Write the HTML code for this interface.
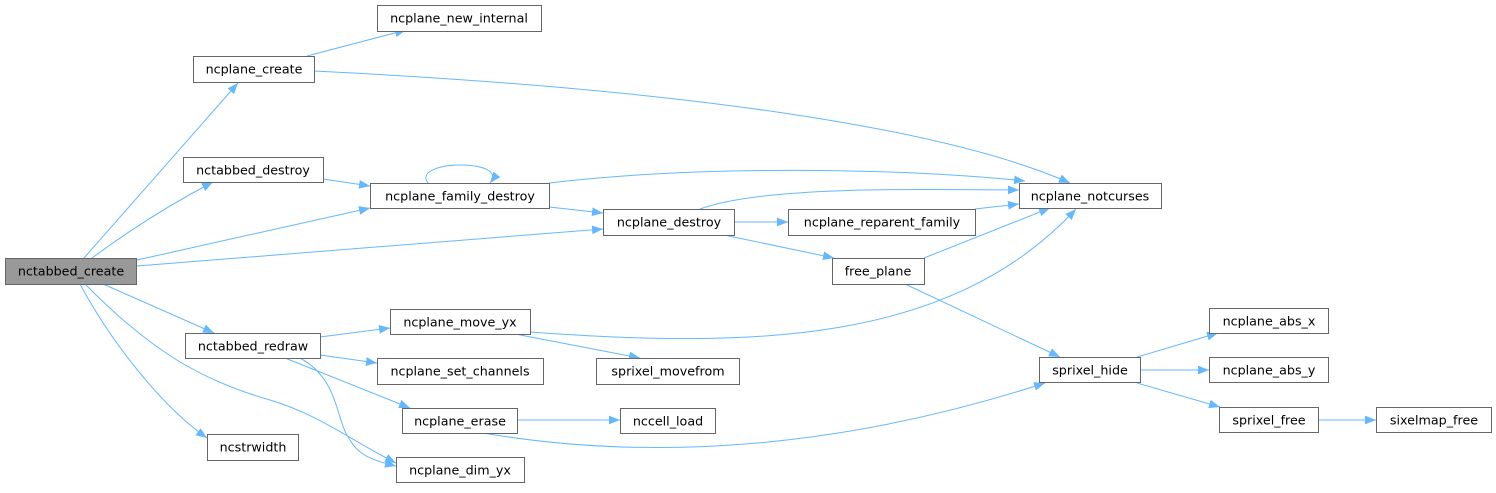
<!DOCTYPE html>
<html><head><meta charset="utf-8"><style>
html,body{margin:0;padding:0;background:#fff;}
svg text{font-family:"DejaVu Sans","Liberation Sans",sans-serif;font-size:12.7px;fill:#000;text-anchor:middle;dominant-baseline:central;}
.n{fill:#fff;stroke:#666;stroke-width:1;}
.e{fill:none;stroke:#63b8ff;stroke-width:1;}
</style></head><body>
<svg width="1496" height="488" viewBox="0 0 1496 488" xmlns="http://www.w3.org/2000/svg">
<defs><marker id="a" viewBox="0 0 10 8" refX="10" refY="4" markerWidth="11" markerHeight="9" markerUnits="userSpaceOnUse" orient="auto"><path d="M0,0L10,4L0,8z" fill="#63b8ff"/></marker></defs>
<g class="e">
<path d="M84,258L238,83" marker-end="url(#a)"/>
<path d="M92,258Q150,215 213,182" marker-end="url(#a)"/>
<path d="M137,260L370,208" marker-end="url(#a)"/>
<path d="M137,266L603,229" marker-end="url(#a)"/>
<path d="M103,284L214,333" marker-end="url(#a)"/>
<path d="M80,284C110,340 160,405 207,438" marker-end="url(#a)"/>
<path d="M85,284C150,350 200,380 270,400C320,415 350,440 396,463" marker-end="url(#a)"/>
<path d="M307,56L406,30" marker-end="url(#a)"/>
<path d="M314,71C700,90 950,130 1070,183" marker-end="url(#a)"/>
<path d="M323,179L370,186" marker-end="url(#a)"/>
<path d="M428,183C410,160 510,158 490,183" marker-end="url(#a)"/>
<path d="M549,183C700,165 900,168 1025,181" marker-end="url(#a)"/>
<path d="M549,207L603,213" marker-end="url(#a)"/>
<path d="M700,209C760,187 900,189 1019,190" marker-end="url(#a)"/>
<path d="M734,222L788,222" marker-end="url(#a)"/>
<path d="M724,235L834,258" marker-end="url(#a)"/>
<path d="M975,209L1019,204" marker-end="url(#a)"/>
<path d="M924,258L1050,208" marker-end="url(#a)"/>
<path d="M905,284L1060,357" marker-end="url(#a)"/>
<path d="M530,332C750,348 950,345 1076,209" marker-end="url(#a)"/>
<path d="M515,334L640,358" marker-end="url(#a)"/>
<path d="M320,337L390,328" marker-end="url(#a)"/>
<path d="M320,355L377,363" marker-end="url(#a)"/>
<path d="M285,358L410,408" marker-end="url(#a)"/>
<path d="M300,358C340,380 335,420 350,440C360,458 380,462 396,466" marker-end="url(#a)"/>
<path d="M517,420L620,420" marker-end="url(#a)"/>
<path d="M483,433C700,470 900,430 1045,383" marker-end="url(#a)"/>
<path d="M1137,357L1218,333" marker-end="url(#a)"/>
<path d="M1140,370L1209,370" marker-end="url(#a)"/>
<path d="M1137,383L1220,407" marker-end="url(#a)"/>
<path d="M1318,420L1376,420" marker-end="url(#a)"/>
</g>
<rect x="5.5" y="258.5" width="131" height="26" fill="#999" stroke="#666"/><text x="71" y="271">nctabbed_create</text>
<rect class="n" x="377.5" y="5.5" width="164" height="26"/><text x="459" y="18">ncplane_new_internal</text>
<rect class="n" x="193.5" y="56.5" width="121" height="26"/><text x="254" y="69">ncplane_create</text>
<rect class="n" x="183.5" y="157.5" width="140" height="25"/><text x="253" y="170">nctabbed_destroy</text>
<rect class="n" x="370.5" y="183.5" width="179" height="25"/><text x="460" y="196">ncplane_family_destroy</text>
<rect class="n" x="603.5" y="209.5" width="131" height="26"/><text x="669" y="222">ncplane_destroy</text>
<rect class="n" x="788.5" y="209.5" width="187" height="26"/><text x="882" y="222">ncplane_reparent_family</text>
<rect class="n" x="1019.5" y="183.5" width="142" height="25"/><text x="1090" y="196">ncplane_notcurses</text>
<rect class="n" x="832.5" y="258.5" width="92" height="26"/><text x="878" y="271">free_plane</text>
<rect class="n" x="390.5" y="309.5" width="140" height="25"/><text x="460" y="322">ncplane_move_yx</text>
<rect class="n" x="185.5" y="333.5" width="135" height="25"/><text x="253" y="346">nctabbed_redraw</text>
<rect class="n" x="377.5" y="358.5" width="166" height="26"/><text x="460" y="371">ncplane_set_channels</text>
<rect class="n" x="596.5" y="358.5" width="143" height="26"/><text x="668" y="371">sprixel_movefrom</text>
<rect class="n" x="1039.5" y="357.5" width="101" height="25"/><text x="1090" y="370">sprixel_hide</text>
<rect class="n" x="1209.5" y="308.5" width="119" height="25"/><text x="1269" y="321">ncplane_abs_x</text>
<rect class="n" x="1209.5" y="357.5" width="119" height="25"/><text x="1269" y="370">ncplane_abs_y</text>
<rect class="n" x="1219.5" y="407.5" width="99" height="25"/><text x="1269" y="420">sprixel_free</text>
<rect class="n" x="1376.5" y="407.5" width="115" height="25"/><text x="1434" y="420">sixelmap_free</text>
<rect class="n" x="402.5" y="408.5" width="115" height="25"/><text x="460" y="421">ncplane_erase</text>
<rect class="n" x="620.5" y="408.5" width="95" height="25"/><text x="668" y="421">nccell_load</text>
<rect class="n" x="207.5" y="434.5" width="91" height="26"/><text x="253" y="447">ncstrwidth</text>
<rect class="n" x="396.5" y="457.5" width="128" height="25"/><text x="460" y="470">ncplane_dim_yx</text>
</svg>
</body></html>
